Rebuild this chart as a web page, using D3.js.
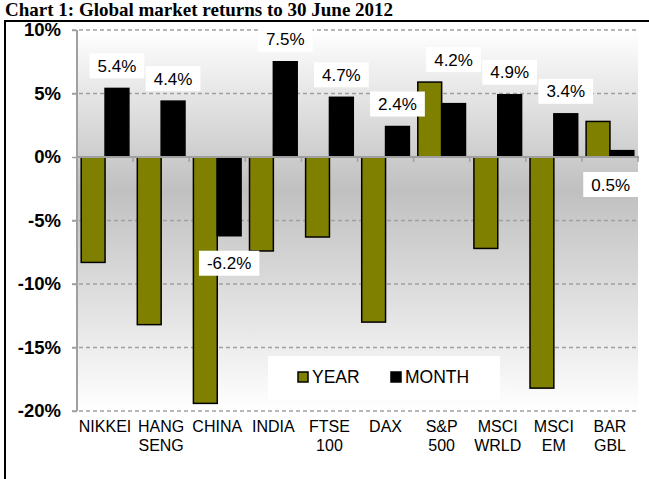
<!DOCTYPE html>
<html>
<head>
<meta charset="utf-8">
<script src="https://cdn.jsdelivr.net/npm/d3@7"></script>
<style>
  html, body { margin: 0; padding: 0; background: #fff; }
  svg { display: block; }
</style>
</head>
<body>
<script>
// ---- data ----
const categories = [["NIKKEI"], ["HANG", "SENG"], ["CHINA"], ["INDIA"], ["FTSE", "100"], ["DAX"], ["S&P", "500"], ["MSCI", "WRLD"], ["MSCI", "EM"], ["BAR", "GBL"]];
const yearValues = [-8.3, -13.2, -19.4, -7.4, -6.3, -13.0, 5.9, -7.2, -18.2, 2.8];
const monthValues = [5.4, 4.4, -6.2, 7.5, 4.7, 2.4, 4.2, 4.9, 3.4, 0.5];
const monthLabelSide = ["above", "above", "below", "above", "above", "above", "above", "above", "above", "below"];
const yTicks = [10, 5, 0, -5, -10, -15, -20];
const seriesNames = ["YEAR", "MONTH"];
const titleText = "Chart 1: Global market returns to 30 June 2012";

// ---- layout ----
const W = 649, H = 479;
const plot = { x0: 77, x1: 638, y0: 30, y1: 411 };
const colors = { YEAR: "#808000", MONTH: "#000000" };
const font = "'Liberation Sans', Arial, sans-serif";

const svg = d3.select("body").append("svg").attr("width", W).attr("height", H);

// outer frame
svg.append("rect").attr("x", 5).attr("y", 21).attr("width", 700).attr("height", 500)
  .attr("fill", "#fff").attr("stroke", "#000").attr("stroke-width", 2);

// title
svg.append("text").attr("x", 5).attr("y", 16)
  .attr("font-family", "'Liberation Serif', 'Times New Roman', serif")
  .attr("font-weight", "bold").attr("font-size", 19).attr("fill", "#000")
  .text(titleText);

// scales
const x = d3.scaleBand().domain(d3.range(categories.length))
  .range([plot.x0, plot.x1]).paddingInner(0.15).paddingOuter(0.075);
const xs = d3.scaleBand().domain(seriesNames).range([0, x.bandwidth()]);
const y = d3.scaleLinear().domain([-20, 10]).range([plot.y1, plot.y0]);

// background gradient
const defs = svg.append("defs");
const grad = defs.append("linearGradient").attr("id", "bg").attr("x1", 0).attr("x2", 0).attr("y1", 0).attr("y2", 1);
grad.append("stop").attr("offset", "0%").attr("stop-color", "#ffffff");
grad.append("stop").attr("offset", "42%").attr("stop-color", "#c0c0c0");
grad.append("stop").attr("offset", "100%").attr("stop-color", "#ffffff");
svg.append("rect").attr("x", plot.x0).attr("y", plot.y0)
  .attr("width", plot.x1 - plot.x0).attr("height", plot.y1 - plot.y0)
  .attr("fill", "url(#bg)");

// gridlines (dashed) with tick stubs
svg.append("g").selectAll("line").data(yTicks.filter(d => d !== 0)).join("line")
  .attr("x1", plot.x0 - 5).attr("x2", plot.x1)
  .attr("y1", d => y(d)).attr("y2", d => y(d))
  .attr("stroke", "#a0a0a0").attr("stroke-width", 1.5).attr("stroke-dasharray", "4,3");

// y axis
const yAxis = d3.axisLeft(y).tickValues(yTicks).tickSize(5).tickFormat(d => d + "%");
const gy = svg.append("g").attr("transform", `translate(${plot.x0},0)`).call(yAxis);
gy.select(".domain").attr("stroke", "#a0a0a0").attr("stroke-width", 2).attr("d", `M0,${plot.y0}V${plot.y1}`);
gy.selectAll(".tick line").attr("stroke", "#a0a0a0").attr("stroke-width", 1.5);
gy.selectAll(".tick text").attr("x", -16).attr("font-family", font).attr("font-weight", "bold")
  .attr("font-size", 18.5).attr("fill", "#000");

// bars
const groups = svg.append("g").selectAll("g").data(categories.map((c, i) => i)).join("g")
  .attr("transform", i => `translate(${x(i)},0)`);
groups.selectAll("rect").data(i => [
  { s: "YEAR", v: yearValues[i] },
  { s: "MONTH", v: monthValues[i] }
]).join("rect")
  .attr("x", d => xs(d.s)).attr("width", xs.bandwidth())
  .attr("y", d => y(Math.max(0, d.v))).attr("height", d => Math.abs(y(d.v) - y(0)))
  .attr("fill", d => colors[d.s]).attr("stroke", "#000").attr("stroke-width", 1.5);

// x axis (zero line) with ticks at band boundaries
const xAxisG = svg.append("g");
xAxisG.append("line").attr("x1", plot.x0).attr("x2", plot.x1 + 1)
  .attr("y1", y(0)).attr("y2", y(0)).attr("stroke", "#a0a0a0").attr("stroke-width", 2);
xAxisG.selectAll("line.t").data(d3.range(categories.length + 1)).join("line").attr("class", "t")
  .attr("x1", i => plot.x0 + i * (plot.x1 - plot.x0) / categories.length)
  .attr("x2", i => plot.x0 + i * (plot.x1 - plot.x0) / categories.length)
  .attr("y1", y(0)).attr("y2", y(0) + 5).attr("stroke", "#a0a0a0").attr("stroke-width", 1.5);

// category labels
const catG = svg.append("g");
categories.forEach((lines, i) => {
  const t = catG.append("text").attr("text-anchor", "middle")
    .attr("font-family", font).attr("font-size", 16).attr("fill", "#000");
  lines.forEach((ln, j) => {
    t.append("tspan").attr("x", x(i) + x.bandwidth() / 2).attr("y", plot.y1 + 21 + j * 19).text(ln);
  });
});

// month value labels
const fmt = d => d.toFixed(1) + "%";
const labG = svg.append("g");
monthValues.forEach((v, i) => {
  const cx = x(i) + xs("MONTH") + xs.bandwidth() / 2;
  const t = labG.append("text").attr("font-family", font).attr("font-size", 17)
    .attr("text-anchor", "middle").attr("fill", "#000").text(fmt(v));
  const tw = t.node().getComputedTextLength();
  const bw = tw + 16, bh = 25;
  let bx = cx - bw / 2;
  bx = Math.min(bx, plot.x1 - bw);
  let by;
  if (monthLabelSide[i] === "above") {
    const top = y(Math.max(0, v, yearValues[i]));
    by = top - 10 - bh;
  } else {
    by = Math.max(y(0), y(v)) + 15;
  }
  labG.insert("rect", "text").attr("x", bx).attr("y", by).attr("width", bw).attr("height", bh).attr("fill", "#fff");
  t.attr("x", bx + bw / 2).attr("y", by + bh / 2 + 6);
});

// legend
const lg = svg.append("g");
lg.append("rect").attr("x", 268).attr("y", 356).attr("width", 232).attr("height", 44).attr("fill", "#fff");
const legItems = [{ s: "YEAR", x: 298 }, { s: "MONTH", x: 391 }];
legItems.forEach(it => {
  lg.append("rect").attr("x", it.x).attr("y", 372).attr("width", 10).attr("height", 10)
    .attr("fill", colors[it.s]).attr("stroke", "#000").attr("stroke-width", 1.5);
  lg.append("text").attr("x", it.x + 14).attr("y", 383).attr("font-family", font)
    .attr("font-size", 17.5).attr("fill", "#000").text(it.s);
});
</script>
</body>
</html>
